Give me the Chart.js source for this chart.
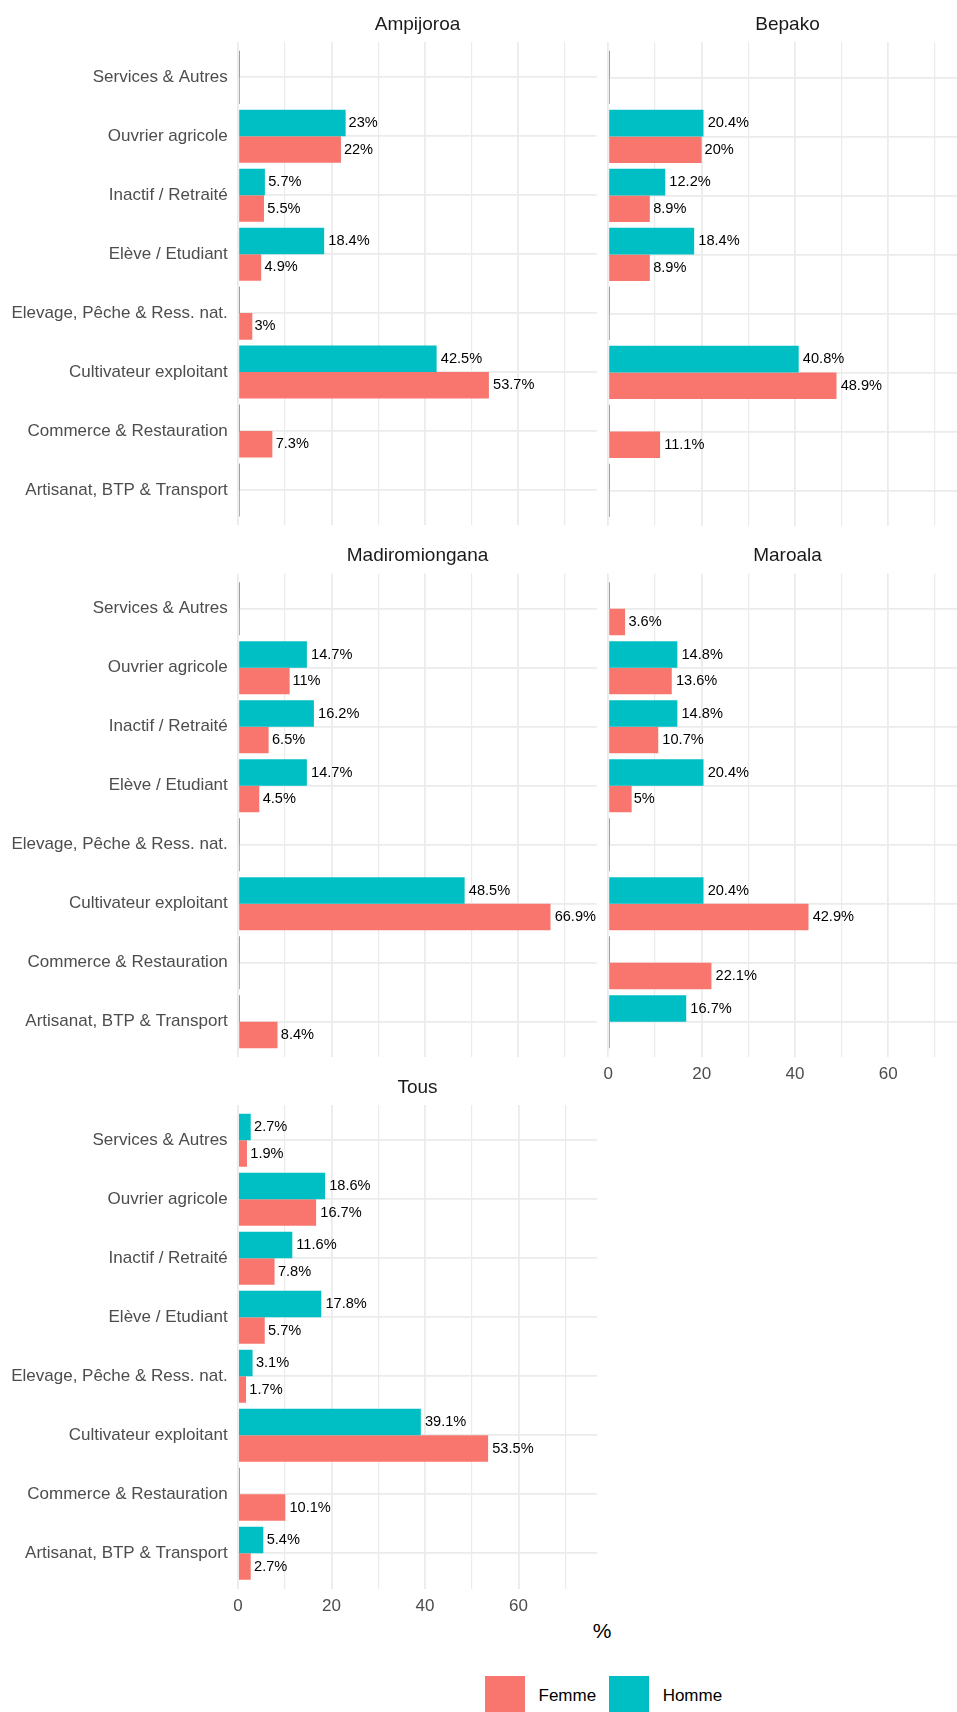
<!DOCTYPE html>
<html lang="fr">
<head>
<meta charset="UTF-8">
<title>Activité principale par sexe et par site</title>
<script src="https://cdn.jsdelivr.net/npm/chart.js"></script>
<style>
    html, body {
        margin: 0;
        padding: 0;
        background: #fff;
    }
    body {
        width: 957px;
        height: 1712px;
        overflow: hidden;
        position: relative;
        font-family: "Liberation Sans", Arial, sans-serif;
    }
    canvas {
        position: absolute;
    }
    #xtitle {
        position: absolute;
        left: 552px;
        width: 100px;
        top: 1618px;
        line-height: 26px;
        text-align: center;
        font-size: 21px;
        color: #000;
    }
    #legend {
        position: absolute;
        left: 485px;
        top: 1676px;
        display: flex;
        align-items: center;
    }
    .key {
        width: 40px;
        height: 40px;
    }
    .lab {
        font-size: 17px;
        color: #000;
        margin: 0 13px 0 13.5px;
    }
</style>
</head>
<body>

<div id="xtitle">%</div>
<div id="legend"></div>

<script>
// categories, top to bottom
const categories = [
    'Services & Autres',
    'Ouvrier agricole',
    'Inactif / Retraité',
    'Elève / Etudiant',
    'Elevage, Pêche & Ress. nat.',
    'Cultivateur exploitant',
    'Commerce & Restauration',
    'Artisanat, BTP & Transport'
];

// values in %
const ampijoroaHomme      = [0, 23, 5.7, 18.4, 0, 42.5, 0, 0];
const ampijoroaFemme      = [0, 22, 5.5, 4.9, 3, 53.7, 7.3, 0];
const bepakoHomme         = [0, 20.4, 12.2, 18.4, 0, 40.8, 0, 0];
const bepakoFemme         = [0, 20, 8.9, 8.9, 0, 48.9, 11.1, 0];
const madiromionganaHomme = [0, 14.7, 16.2, 14.7, 0, 48.5, 0, 0];
const madiromionganaFemme = [0, 11, 6.5, 4.5, 0, 66.9, 0, 8.4];
const maroalaHomme        = [0, 14.8, 14.8, 20.4, 0, 20.4, 0, 16.7];
const maroalaFemme        = [3.6, 13.6, 10.7, 5, 0, 42.9, 22.1, 0];
const tousHomme           = [2.7, 18.6, 11.6, 17.8, 3.1, 39.1, 0, 5.4];
const tousFemme           = [1.9, 16.7, 7.8, 5.7, 1.7, 53.5, 10.1, 2.7];

const seriesNames  = ['Femme', 'Homme'];
const seriesColors = ['#F8766D', '#00BFC4'];

const xTicks      = [0, 10, 20, 30, 40, 50, 60, 70];
const xTickLabels = [0, 20, 40, 60];
const xMax = 76.8;

// where each panel sits on the page
const FONT = '"Liberation Sans", Arial, sans-serif';
const GRID = '#ebebeb';
const PANEL_H = 483.8;
const TITLE_LH = 19 * 1.2;
const TITLE_GAP = 6.1;

const layout = {
    Ampijoroa:      { left: 0,   width: 600, areaL: 238.3, areaR: 596.7, top: 42.0,   xLab: false, yLab: true },
    Bepako:         { left: 588, width: 400, areaL: 608.3, areaR: 966.7, top: 42.0,   xLab: false, yLab: false },
    Madiromiongana: { left: 0,   width: 600, areaL: 238.3, areaR: 596.7, top: 573.4,  xLab: false, yLab: true },
    Maroala:        { left: 588, width: 400, areaL: 608.3, areaR: 966.7, top: 573.4,  xLab: true,  yLab: false },
    Tous:           { left: 0,   width: 600, areaL: 238.1, areaR: 597.0, top: 1104.9, xLab: true,  yLab: true }
};

const valueLabels = {
    id: 'valueLabels',
    afterDatasetsDraw(chart) {
        const ctx = chart.ctx;
        ctx.save();
        ctx.font = '14.6px ' + FONT;
        ctx.fillStyle = '#000';
        ctx.textBaseline = 'middle';
        ctx.textAlign = 'left';
        chart.data.datasets.forEach((ds, di) => {
            chart.getDatasetMeta(di).data.forEach((bar, i) => {
                const v = ds.data[i].x;
                if (!v) return;
                const txt = v + '%';
                const w = ctx.measureText(txt).width;
                ctx.fillText(txt, bar.x + 0.1 * w, bar.y);
            });
        });
        ctx.restore();
    }
};

function toPoints(values) {
    return values.map((v, i) => ({ x: v, y: i }));
}

function makePanel(name, homme, femme) {
    const L = layout[name];
    const canvasTop = Math.floor(L.top - TITLE_LH - TITLE_GAP - 4);
    const titlePadTop = L.top - canvasTop - TITLE_LH - TITLE_GAP;
    const height = Math.ceil(L.top + PANEL_H + (L.xLab ? 40 : 20) - canvasTop);
    const xAxisH = height - (L.top - canvasTop) - PANEL_H;
    const yAxisW = L.areaL - L.left;
    const padRight = L.left + L.width - L.areaR;

    const canvas = document.createElement('canvas');
    canvas.width = L.width;
    canvas.height = height;
    canvas.style.left = L.left + 'px';
    canvas.style.top = canvasTop + 'px';
    canvas.style.width = L.width + 'px';
    canvas.style.height = height + 'px';
    document.body.appendChild(canvas);

    const barOpts = { categoryPercentage: 0.9, barPercentage: 1, minBarLength: 1.7, borderWidth: 0 };

    new Chart(canvas, {
        type: 'bar',
        data: {
            datasets: [
                Object.assign({ label: seriesNames[1], data: toPoints(homme), backgroundColor: seriesColors[1] }, barOpts),
                Object.assign({ label: seriesNames[0], data: toPoints(femme), backgroundColor: seriesColors[0] }, barOpts)
            ]
        },
        options: {
            indexAxis: 'y',
            responsive: false,
            animation: false,
            layout: { padding: { left: 0, right: padRight, top: 0, bottom: 0 } },
            plugins: {
                legend: { display: false },
                tooltip: { enabled: false },
                title: {
                    display: true,
                    text: name,
                    fullSize: false,
                    color: '#1a1a1a',
                    font: { family: FONT, size: 19, weight: 'normal', lineHeight: 1.2 },
                    padding: { top: titlePadTop, bottom: TITLE_GAP }
                }
            },
            scales: {
                x: {
                    type: 'linear',
                    position: 'bottom',
                    min: 0,
                    max: xMax,
                    offset: false,
                    border: { display: false },
                    grid: {
                        color: GRID,
                        drawTicks: false,
                        offset: false,
                        lineWidth: ctx => (xTickLabels.includes(ctx.tick.value) ? 1.8 : 1.2)
                    },
                    ticks: {
                        display: L.xLab,
                        autoSkip: false,
                        padding: 7,
                        color: '#4d4d4d',
                        font: { family: FONT, size: 17 },
                        callback: v => (xTickLabels.includes(v) ? String(v) : '')
                    },
                    afterBuildTicks: s => { s.ticks = xTicks.map(v => ({ value: v })); },
                    afterFit: s => { s.height = xAxisH; }
                },
                y: {
                    type: 'linear',
                    position: 'left',
                    min: -0.6,
                    max: categories.length - 0.4,
                    reverse: true,
                    offset: false,
                    border: { display: false },
                    grid: { color: GRID, drawTicks: false, offset: false, lineWidth: 1.8 },
                    ticks: {
                        display: L.yLab,
                        autoSkip: false,
                        padding: 10.5,
                        color: '#4d4d4d',
                        font: { family: FONT, size: 17 },
                        callback: v => categories[v] || ''
                    },
                    afterBuildTicks: s => { s.ticks = categories.map((c, i) => ({ value: i })); },
                    afterFit: s => { s.width = yAxisW; }
                }
            }
        },
        plugins: [valueLabels]
    });
}

makePanel('Ampijoroa', ampijoroaHomme, ampijoroaFemme);
makePanel('Bepako', bepakoHomme, bepakoFemme);
makePanel('Madiromiongana', madiromionganaHomme, madiromionganaFemme);
makePanel('Maroala', maroalaHomme, maroalaFemme);
makePanel('Tous', tousHomme, tousFemme);

// legend
const legend = document.getElementById('legend');
seriesNames.forEach((name, i) => {
    const key = document.createElement('div');
    key.className = 'key';
    key.style.background = seriesColors[i];
    const lab = document.createElement('span');
    lab.className = 'lab';
    lab.textContent = name;
    legend.appendChild(key);
    legend.appendChild(lab);
});
</script>
</body>
</html>
